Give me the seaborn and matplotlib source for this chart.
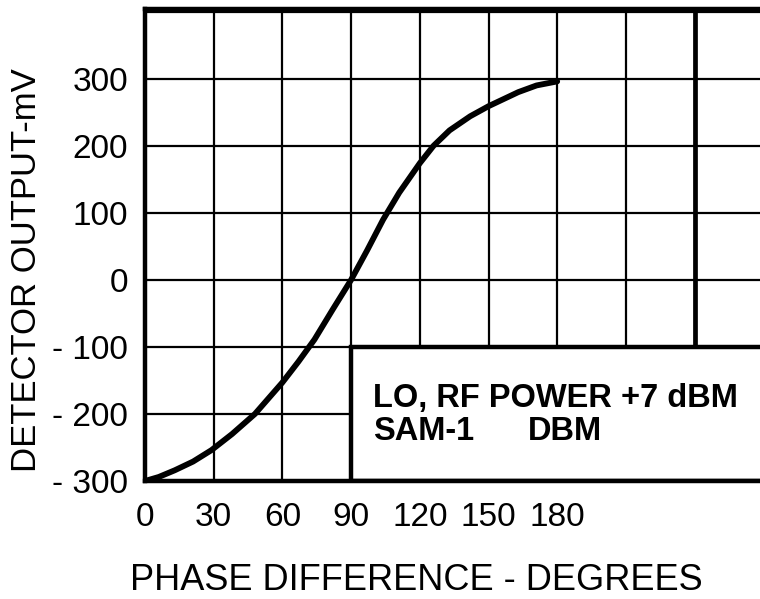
import matplotlib
matplotlib.use("Agg")
import matplotlib.pyplot as plt
import seaborn as sns
import pandas as pd
from matplotlib.patches import Rectangle

# ---- data ----
phase_deg = [0, 6, 13, 21, 29, 38, 48, 60, 67, 74, 82, 90, 97, 104, 111, 120, 126, 133, 142, 150, 163, 171, 180]
output_mv = [-300, -294, -284, -271, -254, -230, -200, -153, -122, -89, -44, 0, 44, 90, 130, 174, 200, 223, 244, 259, 280, 290, 296]
x_ticks = [0, 30, 60, 90, 120, 150, 180, 210, 240]
x_tick_labels = ["0", "30", "60", "90", "120", "150", "180", "", ""]
y_ticks = [-300, -200, -100, 0, 100, 200, 300, 400]
y_tick_labels = ["- 300", "- 200", "- 100", "0", "100", "200", "300", ""]
box_line1 = "LO, RF POWER +7 dBM"
box_line2a = "SAM-1"
box_line2b = "DBM"

df = pd.DataFrame({"phase": phase_deg, "mv": output_mv})

sns.set_style("white")
plt.rcParams["font.family"] = ["Liberation Sans", "DejaVu Sans"]
plt.rcParams["text.color"] = "black"
plt.rcParams["axes.labelcolor"] = "black"

W, H = 760, 599
fig = plt.figure(figsize=(W / 100, H / 100), dpi=100)
ax = fig.add_axes([145 / W, (H - 481) / H, (W - 145) / W, (481 - 9) / H])

ax.set_xlim(0, 615 / 2.29)
ax.set_ylim(-300, 404)

ax.set_xticks(x_ticks)
ax.set_xticklabels(x_tick_labels)
ax.set_yticks(y_ticks)
ax.set_yticklabels(y_tick_labels)
ax.tick_params(axis="both", length=0, labelsize=24, colors="black")
ax.tick_params(axis="y", pad=12)
ax.tick_params(axis="x", pad=15)

ax.grid(True, color="black", linewidth=1.6)
ax.set_axisbelow(True)

# thick vertical line at 240
ax.axvline(240, color="black", linewidth=3.4, zorder=1.5)

for side in ["left", "bottom", "top"]:
    ax.spines[side].set_linewidth(3.2)
    ax.spines[side].set_color("black")
ax.spines["right"].set_visible(False)

sns.lineplot(data=df, x="phase", y="mv", ax=ax, color="black", linewidth=4.2,
             zorder=3, estimator=None, sort=False)

# legend box
rect = Rectangle((90, -300), 400, 200, facecolor="white", edgecolor="black",
                 linewidth=3.2, zorder=2.5, clip_on=True)
ax.add_patch(rect)
ax.text(99.5, -190, box_line1, fontsize=23.5, fontweight="bold", va="baseline",
        ha="left", zorder=4)
ax.text(99.5, -239, box_line2a, fontsize=23.5, fontweight="bold", va="baseline",
        ha="left", zorder=4)
ax.text(167, -239, box_line2b, fontsize=23.5, fontweight="bold", va="baseline",
        ha="left", zorder=4)

ax.set_xlabel("PHASE DIFFERENCE - DEGREES", fontsize=26, va="center")
ax.xaxis.set_label_coords((416 - 145) / 615, (481 - 580) / 472)
ax.set_ylabel("DETECTOR OUTPUT-mV", fontsize=25, va="center")
ax.yaxis.set_label_coords((26 - 145) / 615, (481 - 270) / 472)

fig.savefig("out.png", dpi=100)
